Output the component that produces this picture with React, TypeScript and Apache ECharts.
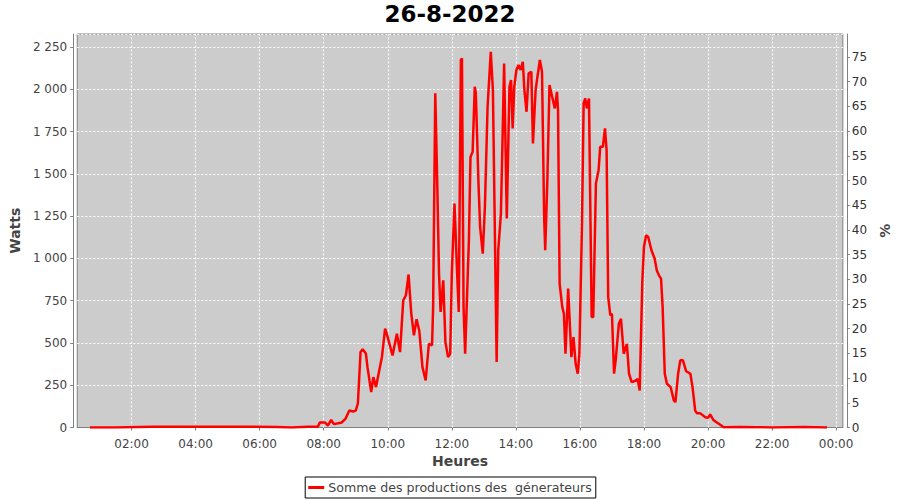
import React, { useEffect, useRef } from "react";
import * as echarts from "echarts";

const chartTitle = "26-8-2022";
const seriesName = "Somme des productions des  génerateurs";
const xAxisName = "Heures";
const leftAxisName = "Watts";
const rightAxisName = "%";

const times = [
  "00:42", "01:30", "02:40", "03:20", "04:00", "04:50", "05:40", "06:30", "07:00", "07:30",
  "07:49", "07:53", "08:02", "08:08", "08:14", "08:19", "08:27", "08:34", "08:41", "08:48",
  "08:55", "09:00", "09:04", "09:09", "09:13", "09:19", "09:22", "09:29", "09:33", "09:38",
  "09:44", "09:49", "09:55", "09:59", "10:09", "10:17", "10:23", "10:29", "10:34", "10:39",
  "10:44", "10:49", "10:54", "10:59", "11:05", "11:11", "11:17", "11:23", "11:25", "11:29",
  "11:33", "11:36", "11:39", "11:44", "11:48", "11:53", "11:57", "12:00", "12:05", "12:10",
  "12:13", "12:17", "12:19", "12:22", "12:25", "12:32", "12:35", "12:39", "12:43", "12:45",
  "12:50", "12:53", "12:58", "13:02", "13:07", "13:13", "13:17", "13:24", "13:27", "13:32",
  "13:35", "13:38", "13:43", "13:48", "13:51", "13:54", "13:57", "14:01", "14:05", "14:09",
  "14:13", "14:16", "14:20", "14:24", "14:29", "14:32", "14:37", "14:40", "14:45", "14:49",
  "14:53", "14:55", "14:59", "15:03", "15:08", "15:13", "15:17", "15:19", "15:22", "15:27",
  "15:30", "15:33", "15:38", "15:44", "15:48", "15:52", "15:56", "15:59", "16:04", "16:07",
  "16:10", "16:13", "16:17", "16:22", "16:25", "16:30", "16:35", "16:38", "16:43", "16:47",
  "16:50", "16:53", "16:57", "17:00", "17:04", "17:07", "17:13", "17:17", "17:22", "17:28",
  "17:32", "17:37", "17:45", "17:48", "17:52", "17:57", "18:00", "18:04", "18:08", "18:14",
  "18:20", "18:24", "18:28", "18:32", "18:35", "18:39", "18:43", "18:50", "18:56", "18:59",
  "19:04", "19:08", "19:13", "19:19", "19:27", "19:31", "19:36", "19:39", "19:45", "19:55",
  "20:00", "20:04", "20:10", "20:16", "20:25", "20:29", "21:00", "21:30", "22:00", "22:30",
  "23:00", "23:43",
];

const watts = [
  0, 0, 5, 5, 4, 5, 4, 3, 0, 5,
  5, 30, 30, 12, 45, 20, 25, 30, 53, 100,
  95, 100, 142, 446, 462, 438, 357, 209, 298, 239,
  337, 416, 584, 545, 426, 555, 446, 752, 782, 905,
  675, 545, 640, 574, 357, 278, 495, 486, 712, 1976,
  1403, 912, 683, 870, 505, 416, 436, 910, 1324, 910,
  683, 2173, 2183, 712, 436, 1107, 1600, 1630, 2015, 1976,
  1443, 1186, 1028, 1304, 1897, 2222, 1995, 387, 1048, 1265,
  1700, 2153, 1236, 2015, 2055, 1769, 2015, 2114, 2143, 2114,
  2163, 1995, 1867, 2094, 2104, 1680, 1995, 2065, 2173, 2104,
  1245, 1048, 1462, 2025, 1956, 1887, 1985, 1877, 851, 712,
  673, 436, 821, 416, 535, 377, 318, 436, 1226, 1917,
  1946, 1887, 1946, 653, 653, 1443, 1522, 1660, 1660, 1769,
  1640, 771, 663, 673, 318, 397, 614, 643, 436, 495,
  318, 268, 278, 288, 219, 870, 1068, 1137, 1127, 1048,
  999, 930, 900, 880, 712, 318, 259, 239, 160, 150,
  318, 397, 397, 333, 318, 239, 100, 85, 85, 61,
  57, 77, 45, 31, 12, 2, 3, 2, 0, 2,
  3, 0,
];

const xTickHours = [2, 4, 6, 8, 10, 12, 14, 16, 18, 20, 22, 24];
const xMinHours = 0.304;
const xMaxHours = 24.21;
const wattMax = 2327;
const wattInterval = 250;
const pctMax = 79.66;
const pctInterval = 5;

const toHours = (s: string) => {
  const [h, m] = s.split(":").map(Number);
  return h + m / 60;
};

const fmtHour = (v: number) => {
  const h = Math.round(v) % 24;
  return (h < 10 ? "0" : "") + h + ":00";
};

const fmtWatt = (v: number) => {
  if (v >= 1000) {
    const th = Math.floor(v / 1000);
    const rest = String(v % 1000).padStart(3, "0");
    return th + " " + rest;
  }
  return String(v);
};

const FONT = "DejaVu Sans";
const gridLine = { color: "#ffffff", type: [2, 2] as number[], width: 1 };

export default function App() {
  const ref = useRef<HTMLDivElement>(null);

  useEffect(() => {
    if (!ref.current) return;
    const chart = echarts.init(ref.current, undefined, { renderer: "svg" });
    const data = times.map((t, i) => [toHours(t), watts[i]]);
    chart.setOption({
      animation: false,
      backgroundColor: "#ffffff",
      textStyle: { fontFamily: FONT },
      title: {
        text: chartTitle,
        left: "center",
        top: 0,
        padding: [2, 5],
        textStyle: { fontFamily: FONT, fontSize: 23, fontWeight: "bold", color: "#000" },
      },
      legend: {
        bottom: 2,
        left: "center",
        data: [seriesName],
        icon: "rect",
        itemWidth: 16,
        itemHeight: 3,
        itemGap: 4,
        borderColor: "#000",
        borderWidth: 1,
        borderRadius: 0,
        padding: [4, 4, 4, 3],
        textStyle: { fontFamily: FONT, fontSize: 12.6, color: "#444", padding: [0, 0, 0, -1] },
      },
      grid: {
        left: 77,
        top: 34,
        width: 772,
        height: 393.5,
        show: true,
        backgroundColor: "#cccccc",
        borderColor: "#808080",
        borderWidth: 1,
      },
      xAxis: {
        type: "value",
        min: xMinHours,
        max: xMaxHours,
        offset: 4,
        name: xAxisName,
        nameLocation: "middle",
        nameGap: 22,
        nameTextStyle: { fontFamily: FONT, fontSize: 14, fontWeight: "bold", color: "#444" },
        axisLine: { show: true, lineStyle: { color: "#808080" } },
        axisTick: { show: true, length: 3, customValues: xTickHours, lineStyle: { color: "#808080" } },
        axisLabel: {
          customValues: xTickHours,
          formatter: fmtHour,
          margin: 6,
          fontSize: 12,
          color: "#444",
          fontFamily: FONT,
        },
        splitLine: { show: false },
      },
      yAxis: [
        {
          type: "value",
          position: "left",
          min: 0,
          max: wattMax,
          interval: wattInterval,
          offset: 4,
          name: leftAxisName,
          nameLocation: "middle",
          nameGap: 42,
          nameTextStyle: { fontFamily: FONT, fontSize: 14, fontWeight: "bold", color: "#444" },
          axisLine: { show: true, lineStyle: { color: "#808080" } },
          axisTick: { show: true, length: 3, lineStyle: { color: "#808080" } },
          axisLabel: {
            showMaxLabel: false,
            formatter: fmtWatt,
            margin: 6,
            fontSize: 12,
            color: "#444",
            fontFamily: FONT,
          },
          splitLine: { show: true, lineStyle: gridLine },
        },
        {
          type: "value",
          position: "right",
          min: 0,
          max: pctMax,
          interval: pctInterval,
          offset: 4,
          name: rightAxisName,
          nameLocation: "middle",
          nameGap: 28,
          nameTextStyle: { fontFamily: FONT, fontSize: 14, fontWeight: "bold", color: "#444" },
          axisLine: { show: true, lineStyle: { color: "#808080" } },
          axisTick: { show: true, length: 3, lineStyle: { color: "#808080" } },
          axisLabel: {
            showMaxLabel: false,
            margin: 5,
            fontSize: 12,
            color: "#333",
            fontFamily: FONT,
          },
          splitLine: { show: false },
        },
      ],
      series: [
        {
          name: "gridlines",
          type: "line",
          yAxisIndex: 0,
          data: [],
          z: 1,
          silent: true,
          markLine: {
            z: 1,
            silent: true,
            symbol: ["none", "none"],
            label: { show: false },
            emphasis: { disabled: true },
            lineStyle: gridLine,
            data: xTickHours.filter((h) => h < xMaxHours).map((h) => ({ xAxis: h })),
          },
        },
        {
          name: seriesName,
          type: "line",
          yAxisIndex: 0,
          data,
          z: 3,
          showSymbol: false,
          symbol: "rect",
          lineStyle: { color: "#ff0000", width: 2.5 },
          itemStyle: { color: "#ff0000" },
        },
      ],
    });
    return () => chart.dispose();
  }, []);

  return (
    <div
      ref={ref}
      style={{ position: "fixed", left: 0, top: 0, width: 900, height: 500 }}
    />
  );
}
